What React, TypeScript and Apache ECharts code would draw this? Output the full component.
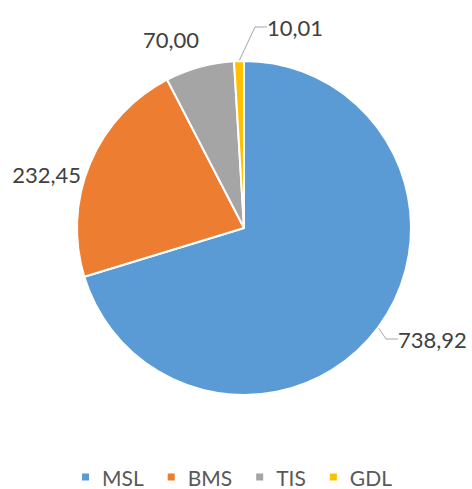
import React, { useEffect, useRef } from "react";
import * as echarts from "echarts";

const categories = ["MSL", "BMS", "TIS", "GDL"];
const values = [738.92, 232.45, 70.0, 10.01];
const colors = ["#5B9BD5", "#ED7D31", "#A5A5A5", "#FFC000"];

const FONT = "Lato, 'Open Sans', sans-serif";

// label anchor placement (layout only)
const labelSpots = [
  { x: 398, y: 339, align: "left" },
  { x: 81, y: 174, align: "right" },
  { x: 171, y: 39, align: "center" },
  { x: 267, y: 27, align: "left" },
];

export default function App() {
  const ref = useRef<HTMLDivElement>(null);
  useEffect(() => {
    if (!ref.current) return;
    const chart = echarts.init(ref.current, undefined, { renderer: "svg" });
    chart.setOption({
      animation: false,
      color: colors,
      legend: {
        data: categories,
        top: 465,
        left: "center",
        padding: 0,
        icon: "rect",
        itemWidth: 9,
        itemHeight: 9,
        itemGap: 22,
        textStyle: {
          fontFamily: FONT,
          fontSize: 21,
          lineHeight: 24,
          color: "#595959",
          padding: [0, 0, 0, 7],
        },
      },
      series: [
        {
          type: "pie",
          center: [244, 228],
          radius: 167,
          startAngle: 90,
          clockwise: true,
          avoidLabelOverlap: false,
          itemStyle: { borderColor: "#fff", borderWidth: 2 },
          label: {
            show: true,
            position: "outside",
            formatter: (p: any) => p.value.toFixed(2).replace(".", ","),
            fontFamily: FONT,
            fontSize: 22,
            color: "#404040",
          },
          labelLine: {
            show: true,
            length: 14,
            length2: 12,
            lineStyle: { color: "#A6A6A6", width: 1 },
          },
          labelLayout: (p: any) => {
            const s = labelSpots[p.dataIndex];
            return { x: s.x, y: s.y, align: s.align, verticalAlign: "middle" };
          },
          data: categories.map((c, i) => ({
            name: c,
            value: values[i],
            labelLine: { show: i === 0 || i === 3 },
          })),
        },
      ],
    });
    return () => chart.dispose();
  }, []);
  return (
    <div
      ref={ref}
      style={{ position: "fixed", left: 0, top: 0, width: 472, height: 489, background: "#fff" }}
    />
  );
}
